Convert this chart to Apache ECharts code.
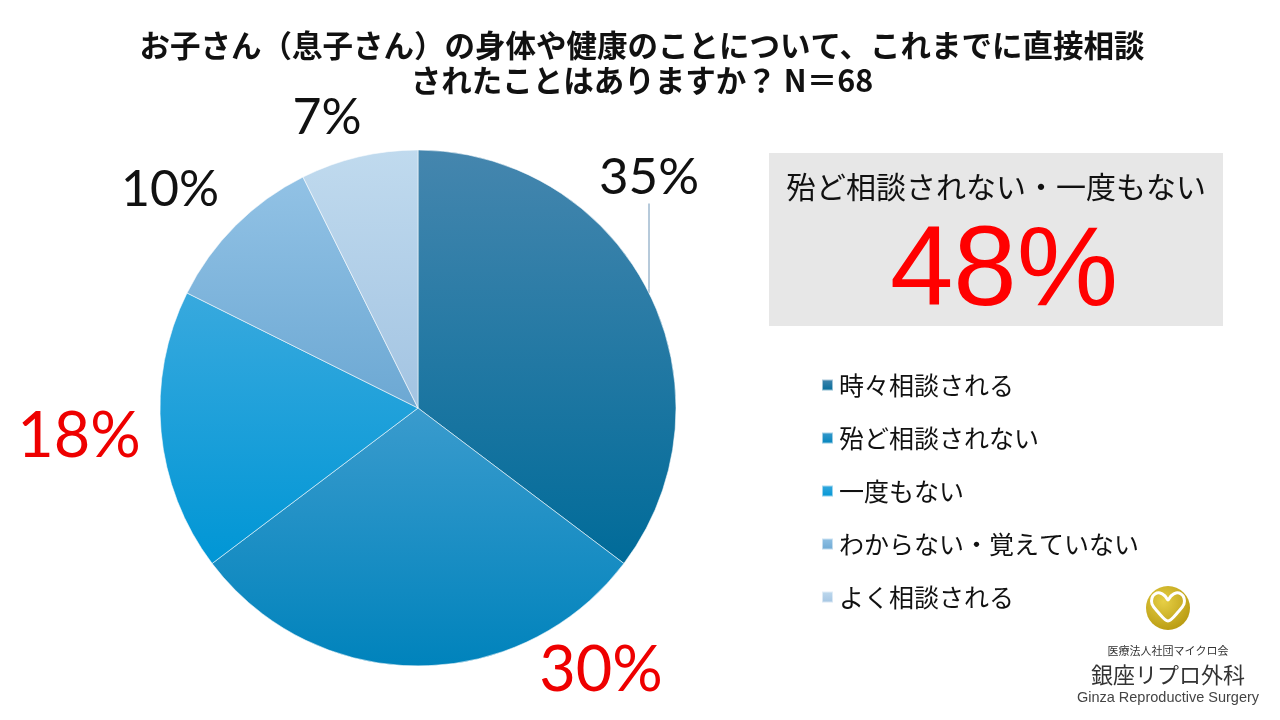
<!DOCTYPE html>
<html>
<head>
<meta charset="utf-8">
<script src="https://cdn.jsdelivr.net/npm/echarts@6/dist/echarts.min.js"></script>
<style>html,body{margin:0;padding:0;background:#fff;}#c{width:1280px;height:720px;}</style>
</head>
<body>
<div id="c"></div>
<script>
var categories = ['時々相談される', '殆ど相談されない', '一度もない', 'わからない・覚えていない', 'よく相談される'];
// respondent counts (N = 68); shown as rounded percentages 35% / 30% / 18% / 10% / 7%
var counts = [24, 20, 12, 7, 5];
var titleLines = ['お子さん（息子さん）の身体や健康のことについて、これまでに直接相談', 'されたことはありますか？ N＝68'];
var boxTitle = '殆ど相談されない・一度もない';
var boxValue = '48%';

var sliceColors = [
  ['#4586ae', '#006b99'],
  ['#3a9bcd', '#0083bc'],
  ['#38a9de', '#0096d5'],
  ['#92c2e5', '#6ca8d3'],
  ['#c0daee', '#a3c4e2']
];
var labelColors = ['#111', '#ee0000', '#ee0000', '#111', '#111'];
var labelSizes = [51, 63, 63, 50, 50];
var labelPos = [[649, 178], [601, 671], [79, 437], [170, 190], [327, 118]];

var chart = echarts.init(document.getElementById('c'));
var data = counts.map(function (v, i) {
  var item = {
    name: categories[i],
    value: v,
    itemStyle: {
      color: new echarts.graphic.LinearGradient(0, 0, 0, 1, [
        { offset: 0, color: sliceColors[i][0] },
        { offset: 1, color: sliceColors[i][1] }
      ])
    },
    label: { color: labelColors[i], fontSize: labelSizes[i] }
  };
  if (i === 0) {
    item.labelLine = { show: true, length: 5, length2: 85, lineStyle: { color: '#6f95b6', width: 1 } };
  }
  return item;
});

var heartPts = [
  [1168, 621], [1157, 611], [1152, 604], [1152, 598], [1155, 594], [1160, 593], [1165, 596], [1168, 600],
  [1171, 596], [1176, 593], [1181, 594], [1184, 598], [1184, 604], [1179, 611]
];

var option = {
  animation: false,
  backgroundColor: '#fff',
  title: {
    text: titleLines.join('\n'),
    left: 637,
    textAlign: 'center',
    top: 23,
    textStyle: { fontFamily: 'Noto Sans CJK JP', fontWeight: 'bold', fontSize: 30.5, lineHeight: 35, color: '#111' }
  },
  legend: {
    orient: 'vertical',
    left: 816,
    top: 365,
    itemWidth: 11,
    itemHeight: 11,
    itemGap: 23,
    icon: 'rect',
    data: categories,
    textStyle: { fontFamily: 'Noto Sans CJK JP', fontSize: 25, lineHeight: 30, color: '#111', padding: [0, 0, 0, 1] }
  },
  series: [{
    type: 'pie',
    center: [418, 408],
    radius: 258,
    startAngle: 90,
    clockwise: true,
    percentPrecision: 0,
    avoidLabelOverlap: false,
    itemStyle: { borderColor: 'rgba(255,255,255,0.55)', borderWidth: 1 },
    label: {
      show: true,
      formatter: '{d}%',
      fontFamily: 'Lato',
      fontWeight: 'normal'
    },
    labelLine: { show: false },
    labelLayout: function (p) {
      var pos = labelPos[p.dataIndex];
      return { x: pos[0], y: pos[1], align: 'center', verticalAlign: 'middle' };
    },
    emphasis: { disabled: true },
    data: data
  }],
  graphic: [
    { type: 'rect', shape: { x: 769, y: 153, width: 454, height: 173 }, style: { fill: '#e7e7e7' }, z: 0 },
    { type: 'text', x: 996, y: 187, style: { text: boxTitle, fontFamily: 'Noto Sans CJK JP', fontSize: 30, fill: '#111', align: 'center', verticalAlign: 'middle' }, z: 1 },
    { type: 'text', x: 1004, y: 274, style: { text: boxValue, fontFamily: 'Liberation Sans', fontSize: 114, fill: '#ff0000', align: 'center', verticalAlign: 'middle' }, z: 1 },
    { type: 'circle', shape: { cx: 1168, cy: 608, r: 22 }, style: { fill: new echarts.graphic.RadialGradient(0.4, 0.35, 0.7, [{ offset: 0, color: '#e6cf45' }, { offset: 1, color: '#b89a10' }]) }, z: 1 },
    { type: 'polygon', shape: { points: heartPts, smooth: 0.3 }, style: { fill: 'none', stroke: '#fff', lineWidth: 3 }, z: 2 },
    { type: 'text', x: 1168, y: 651, style: { text: '医療法人社団マイクロ会', fontFamily: 'Noto Sans CJK JP', fontSize: 11, fill: '#333', align: 'center', verticalAlign: 'middle' }, z: 1 },
    { type: 'text', x: 1168, y: 675, style: { text: '銀座リプロ外科', fontFamily: 'Noto Sans CJK JP', fontSize: 22, fill: '#333', align: 'center', verticalAlign: 'middle' }, z: 1 },
    { type: 'text', x: 1168, y: 698, style: { text: 'Ginza Reproductive Surgery', fontFamily: 'Liberation Sans', fontSize: 14.5, fill: '#444', align: 'center', verticalAlign: 'middle' }, z: 1 }
  ]
};
chart.setOption(option);
</script>
</body>
</html>
